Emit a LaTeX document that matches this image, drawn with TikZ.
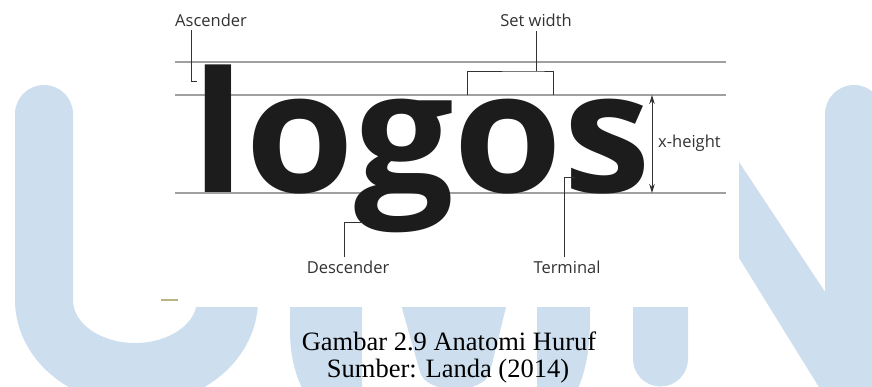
\documentclass[tikz,border=0pt]{standalone}
\usepackage{graphicx}
\usepackage{fontspec}
\setmainfont{Open Sans}
\newfontfamily\captionfont{Liberation Serif}
\usetikzlibrary{arrows.meta, positioning}

\begin{document}
\begin{tikzpicture}[x=1pt, y=-1pt,
  guide/.style={draw=guidegray, line width=1.5pt},
  leader/.style={draw=leadgray, line width=0.9pt},
  lbl/.style={text=leadgray, font=\fontsize{16.5}{18}\selectfont, inner sep=0pt},
  capline/.style={font=\captionfont\fontsize{26.5}{27}\selectfont, inner sep=0pt, anchor=base}]
\definecolor{umnblue}{RGB}{205,222,238}
\definecolor{guidegray}{RGB}{160,160,160}
\definecolor{leadgray}{RGB}{50,50,50}
\definecolor{inkblack}{RGB}{28,28,28}
\definecolor{dashkhaki}{RGB}{185,180,130}

\useasboundingbox (0,0) rectangle (872,387);

% ---- UMN WATERMARK ----
% U
\fill[umnblue] (15,114) arc[start angle=180, end angle=360, radius=29] -- (73,300)
  arc[start angle=180, end angle=0, x radius=62, y radius=43] -- (197,114)
  arc[start angle=180, end angle=360, radius=30.5] -- (258,300)
  arc[start angle=0, end angle=180, x radius=121.5, y radius=105] -- cycle;
% M (only its feet show below the picture)
\fill[umnblue] (290,85) -- (362,85) -- (362,430) .. controls (330,430) and (290,400) .. (290,330) -- cycle;
\fill[umnblue] (380,230) -- (525,230) -- (490,372) .. controls (484,395) and (426,395) .. (420,372) -- cycle;
\fill[umnblue] (537,85) -- (590,85) -- (590,320) .. controls (590,380) and (570,420) .. (537,420) -- cycle;
% N
\fill[umnblue] (633,85) -- (688,85) -- (688,359) arc[start angle=0, end angle=180, radius=27.5] -- cycle;
\fill[umnblue] (632,85) -- (688,85) -- (900,405) -- (830,405) -- cycle;
\fill[umnblue] (825,114) arc[start angle=180, end angle=360, radius=29] -- (883,400) -- (825,400) -- cycle;

% white ground of the pasted picture
\fill[white] (100,0) rectangle (739,307);
\draw[dashkhaki, line width=1.5pt] (161,300) -- (178,300);

% ---- GUIDE LINES ----
\draw[guide] (175,62) -- (726,62);
\draw[guide] (175,95) -- (726,95);
\draw[guide] (175,193) -- (726,193);

% ---- WORD ----
\node[anchor=base west, inner sep=0pt, text=inkblack, font=\bfseries\fontsize{168}{168}\selectfont] (word) at (191,193) {\scalebox{1.05}[1]{logos}};

% Ascender
\node[lbl, anchor=base west] (asc) at (175,27) {Ascender};
\coordinate (lstem) at (197,81);
\draw[leader] (asc.south west) ++(16,3) |- (lstem);

% Set width bracket
\node[lbl, anchor=base] (setw) at (536,27) {Set width};
\coordinate (brkL) at (467,95);
\coordinate (brkR) at (553,95);
\coordinate (brkT) at (536,71);
\draw[leader] (setw.south) ++(0,4) -- (brkT);
\draw[leader] (brkL) |- (brkT) -| (brkR);

% x-height arrow
\coordinate (xtop) at (652,95);
\coordinate (xbot) at (652,193);
\draw[leader, {Stealth[length=9pt,width=5.5pt]}-{Stealth[length=9pt,width=5.5pt]}] (xbot) -- (xtop);
\node[lbl, anchor=base west] (xh) at (658,148) {x-height};

% Descender
\node[lbl, anchor=base] (desc) at (348,273) {Descender};
\coordinate (gtail) at (363,222);
\draw[leader] (desc.north) ++(-4,-3) |- (gtail);

% Terminal
\node[lbl, anchor=base] (term) at (567,273) {Terminal};
\coordinate (sterm) at (575,177);
\draw[leader] (term.north) ++(-3,-3) |- (sterm);

% ---- CAPTION ----
\node[capline] (cap1) at (449,350) {Gambar 2.9 Anatomi Huruf};
\node[capline] (cap2) at (448,377) {Sumber: Landa (2014)};

\end{tikzpicture}
\end{document}
